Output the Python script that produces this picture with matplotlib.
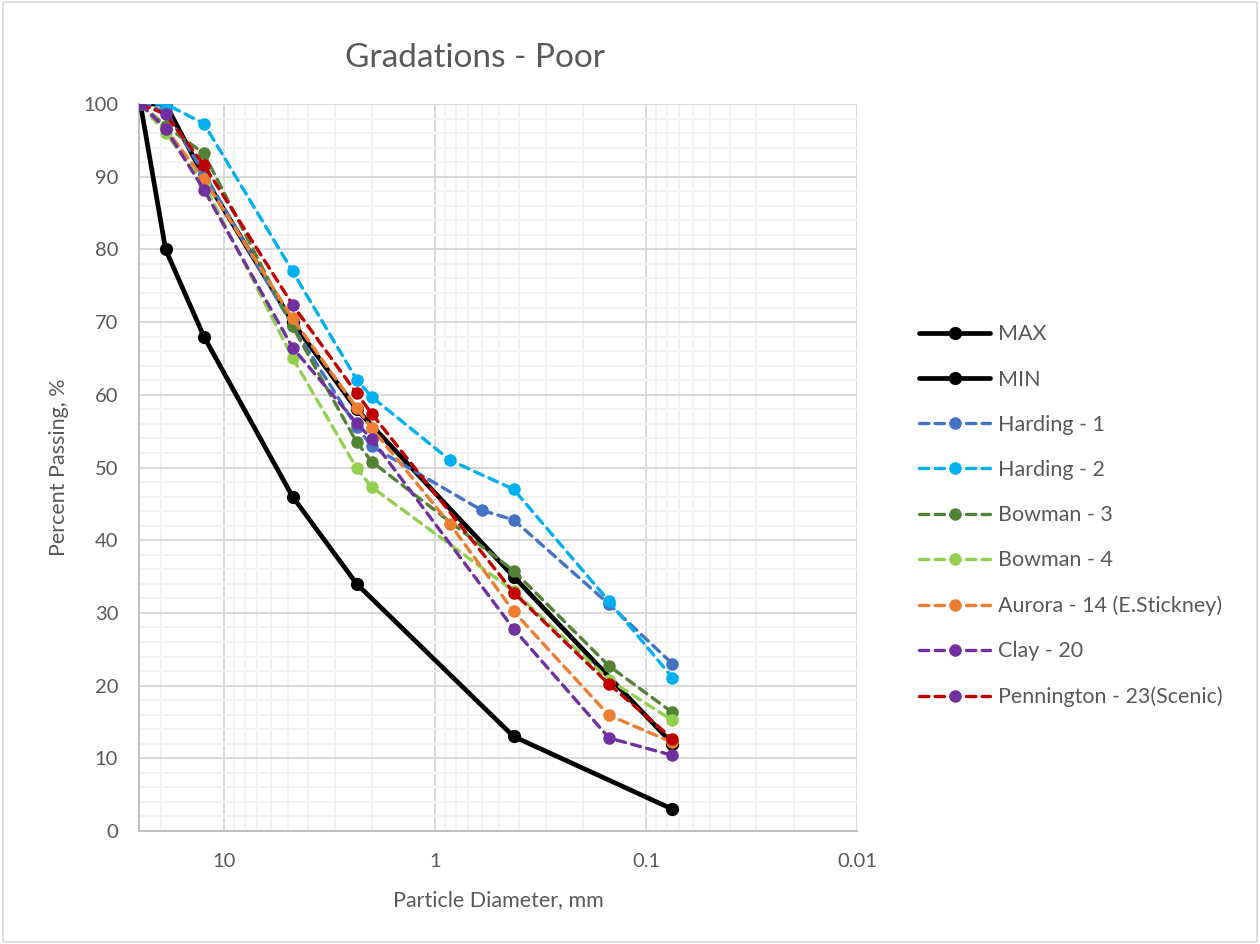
import matplotlib
matplotlib.use("Agg")
import matplotlib.pyplot as plt
from matplotlib.lines import Line2D
from matplotlib.patches import Rectangle
from matplotlib.ticker import FixedLocator, LogLocator, NullFormatter, MultipleLocator

plt.rcParams['font.family'] = ['Lato', 'DejaVu Sans']

# sieve sizes, mm
sieves = [25, 19, 12.5, 4.75, 2.36, 2.0, 0.425, 0.15, 0.075]
band_sieves = [25, 19, 12.5, 4.75, 2.36, 0.425, 0.075]
harding1_sieves = [25, 19, 12.5, 4.75, 2.36, 2.0, 0.6, 0.425, 0.15, 0.075]
harding2_sieves = [25, 19, 12.5, 4.75, 2.36, 2.0, 0.85, 0.425, 0.15, 0.075]
aurora_sieves = [25, 19, 12.5, 4.75, 2.36, 2.0, 0.85, 0.425, 0.15, 0.075]

max_pass = [100, 100, 90, 70, 58, 35, 12]
min_pass = [100, 80, 68, 46, 34, 13, 3]
harding1 = [100, 99, 90.5, 69.5, 55.6, 52.9, 44.1, 42.8, 31.2, 23.0]
harding2 = [100, 100, 97.3, 77, 62.1, 59.7, 51, 47, 31.6, 21.1]
bowman3 = [100, 97, 93.2, 69.4, 53.5, 50.8, 35.8, 22.7, 16.3]
bowman4 = [100, 96, 89, 65.1, 49.9, 47.3, 33, 20.8, 15.2]
aurora = [100, 96.6, 89.7, 70.5, 58.2, 55.4, 42.2, 30.2, 15.9, 12.2]
clay = [100, 96.6, 88.2, 66.5, 56.1, 53.9, 27.8, 12.8, 10.4]
pennington = [100, 98.6, 91.6, 72.4, 60.2, 57.4, 32.8, 20.2, 12.7]

series = [
    ("Harding - 1", harding1_sieves, harding1, "#4472C4"),
    ("Harding - 2", harding2_sieves, harding2, "#00B0F0"),
    ("Bowman - 3", sieves, bowman3, "#548235"),
    ("Bowman - 4", sieves, bowman4, "#92D050"),
    ("Aurora - 14 (E.Stickney)", aurora_sieves, aurora, "#ED7D31"),
    ("Clay - 20", sieves, clay, "#7030A0"),
]

txt = "#595959"
fig = plt.figure(figsize=(12.6, 9.44), dpi=100)
ax = fig.add_axes([139/1260, 1 - 831/944, (857-139)/1260, (831-104)/944])

lw_dash = 2.4
ms = 8
dash = (2.8, 1.9)

handles = []
for name, xs, ys in [("MAX", band_sieves, max_pass), ("MIN", band_sieves, min_pass)]:
    h, = ax.plot(xs, ys, color="black", lw=3.4, marker="o", ms=ms + 0.5,
                 solid_capstyle="round", label=name, zorder=3)
    handles.append(h)

for name, xs, ys, c in series:
    h, = ax.plot(xs, ys, color=c, lw=lw_dash, marker="o", ms=ms, mec=c,
                 dashes=dash, dash_capstyle="round", label=name, zorder=3)
    handles.append(h)

# Pennington: red dashed line, point markers partly purple
penn_marker_colors = ["#7030A0", "#7030A0", "#C00000", "#7030A0", "#C00000",
                      "#C00000", "#C00000", "#C00000", "#C00000"]
ax.plot(sieves, pennington, color="#C00000", lw=lw_dash, dashes=dash,
        dash_capstyle="round", zorder=3)
for x, y, c in zip(sieves, pennington, penn_marker_colors):
    ax.plot([x], [y], marker="o", ms=ms, color=c, mec=c, zorder=3)
handles.append(Line2D([], [], color="#C00000", lw=lw_dash, dashes=dash,
                      dash_capstyle="round", marker="o", ms=ms,
                      mfc="#7030A0", mec="#7030A0",
                      label="Pennington - 23(Scenic)"))

ax.set_xscale("log")
ax.set_xlim(25.4, 0.01)
ax.set_ylim(0, 100)
ax.xaxis.set_major_locator(FixedLocator([10, 1, 0.1, 0.01]))
ax.set_xticklabels(["10", "1", "0.1", "0.01"])
ax.xaxis.set_minor_locator(LogLocator(base=10, subs=range(2, 10)))
ax.xaxis.set_minor_formatter(NullFormatter())
ax.yaxis.set_major_locator(MultipleLocator(10))
ax.yaxis.set_minor_locator(MultipleLocator(2))

ax.grid(which="major", color="#d9d9d9", lw=1.4, zorder=0)
ax.grid(which="minor", color="#f2f2f2", lw=1.4, zorder=0)
ax.set_axisbelow(True)
for s in ["top", "right"]:
    ax.spines[s].set_visible(False)
for s in ["left", "bottom"]:
    ax.spines[s].set_color("#bfbfbf")
    ax.spines[s].set_linewidth(1.4)
ax.tick_params(which="both", length=0, labelsize=14.5, colors=txt)
ax.tick_params(axis="y", pad=15)
ax.tick_params(axis="x", pad=16)

ax.set_xlabel("Particle Diameter, mm", fontsize=15.5, color=txt, labelpad=14)
ax.set_ylabel("Percent Passing, %", fontsize=15.5, color=txt, labelpad=10)
fig.text(475/1260, 1 - 58/944, "Gradations - Poor", fontsize=24, color=txt,
         ha="center", va="center")

leg = fig.legend(handles=handles, loc="upper left",
                 bbox_to_anchor=(900/1260, 1 - 305/944), frameon=False,
                 fontsize=15.5, labelcolor=txt, handlelength=3.3,
                 labelspacing=1.17, handletextpad=0.35)

fig.patches.append(Rectangle((0.002, 0.002), 0.996, 0.996, transform=fig.transFigure,
                             fill=False, edgecolor="#d9d9d9", lw=1.2))

fig.savefig("out.png", dpi=100)
